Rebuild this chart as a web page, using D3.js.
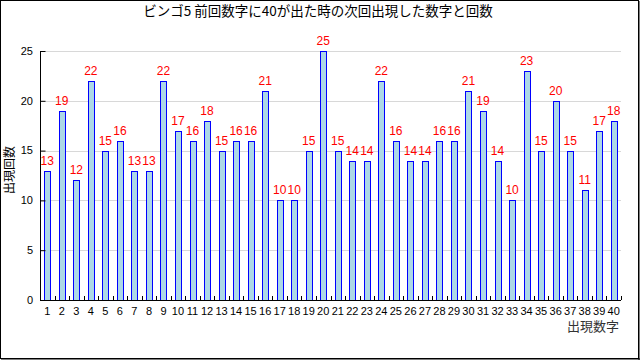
<!DOCTYPE html>
<html><head><meta charset="utf-8">
<script src="https://cdn.jsdelivr.net/npm/d3@7"></script>
<style>body{margin:0;background:#fff}svg{display:block}</style>
</head><body>
<script>
const categories = d3.range(1, 41).map(String);
const counts = [13,19,12,22,15,16,13,13,22,17,16,18,15,16,16,21,10,10,15,25,15,14,14,22,16,14,14,16,16,21,19,14,10,23,15,20,15,11,17,18];
const yTicks = [0,5,10,15,20,25];
const title = "ビンゴ5 前回数字に40が出た時の次回出現した数字と回数";
const xTitle = "出現数字";
const yTitle = "出現回数";

const W = 640, H = 360;
const m = {l:40, r:19, t:51, b:60};
const svg = d3.select("body").append("svg").attr("width", W).attr("height", H);
const font = "'Liberation Sans', Arial, sans-serif";
const cjk = "'Noto Sans CJK JP', sans-serif";

svg.append("rect").attr("x",0.5).attr("y",0.5).attr("width",638).attr("height",358)
  .attr("fill","#fff").attr("stroke","#000").attr("stroke-width",1);
svg.append("line").attr("x1",639).attr("x2",639).attr("y1",1).attr("y2",360).attr("stroke","#000");
svg.append("line").attr("x1",1).attr("x2",640).attr("y1",359).attr("y2",359).attr("stroke","#000");

const x = d3.scaleBand().domain(categories).range([m.l, W - m.r]).paddingInner(0).paddingOuter(0);
const y = d3.scaleLinear().domain([0, 25]).range([H - m.b, m.t]);

// gridlines
svg.append("g").selectAll("line").data(yTicks.filter(d => d > 0)).join("line")
  .attr("x1", m.l).attr("x2", W - m.r)
  .attr("y1", d => Math.round(y(d)) + 0.5).attr("y2", d => Math.round(y(d)) + 0.5)
  .attr("stroke", "#d8d8d8").attr("stroke-width", 1);

// bars
const bw = 6;
svg.append("g").selectAll("rect").data(counts).join("rect")
  .attr("x", (d, i) => Math.round(x(categories[i]) + x.bandwidth()/2 - bw/2) + 0.5)
  .attr("y", d => Math.round(y(d)) + 0.5)
  .attr("width", bw)
  .attr("height", d => Math.round(y(0)) - Math.round(y(d)))
  .attr("fill", "#add8e6").attr("stroke", "#0000ff").attr("stroke-width", 1);

// value labels
svg.append("g").selectAll("text").data(counts).join("text")
  .attr("x", (d, i) => x(categories[i]) + x.bandwidth()/2)
  .attr("y", d => y(d) - 6)
  .attr("text-anchor", "middle")
  .attr("font-family", font).attr("font-size", 12).attr("fill", "#ff0000")
  .text(d => d);

// y axis
const yAxis = d3.axisRight(y).tickValues(yTicks).tickSize(5).tickFormat("");
const gy = svg.append("g").attr("transform", `translate(${m.l + 0.5},0)`).call(yAxis);
gy.select(".domain").remove();
gy.selectAll("line").attr("stroke", "#000");
svg.append("line").attr("x1", m.l + 0.5).attr("x2", m.l + 0.5).attr("y1", y(25)).attr("y2", y(0) + 0.5).attr("stroke", "#000");
svg.append("g").selectAll("text").data(yTicks).join("text")
  .attr("x", 33).attr("y", d => y(d)).attr("dy", "0.35em")
  .attr("text-anchor", "end").attr("font-family", font).attr("font-size", 11).attr("fill", "#000")
  .text(d => d);

// x axis
const xAxis = d3.axisBottom(x).tickSize(0).tickFormat(d => d);
const gx = svg.append("g").attr("transform", `translate(0,${Math.round(y(0)) + 0.5})`).call(xAxis);
gx.select(".domain").attr("stroke", "#000").attr("d", `M${m.l},0H${W - m.r}`);
gx.selectAll("text").attr("font-family", font).attr("font-size", 11).attr("fill", "#000").attr("dy", "0.71em").attr("y", 7);
// boundary ticks
svg.append("g").selectAll("line").data(categories).join("line")
  .attr("x1", d => Math.round(x(d) + x.bandwidth()) + 0.5).attr("x2", d => Math.round(x(d) + x.bandwidth()) + 0.5)
  .attr("y1", Math.round(y(0)) - 4).attr("y2", Math.round(y(0)))
  .attr("stroke", "#000");

// titles
svg.append("text").attr("x", 318).attr("y", 16).attr("text-anchor", "middle")
  .attr("font-family", cjk).attr("font-size", 13.5).attr("fill", "#000").text(title);
svg.append("text").attr("x", 619).attr("y", 331).attr("text-anchor", "end")
  .attr("font-family", cjk).attr("font-size", 13).attr("fill", "#333").text(xTitle);
svg.append("text").attr("transform", "translate(14,170) rotate(-90)").attr("text-anchor", "middle")
  .attr("font-family", cjk).attr("font-size", 12).attr("fill", "#000").text(yTitle);
</script>
</body></html>
